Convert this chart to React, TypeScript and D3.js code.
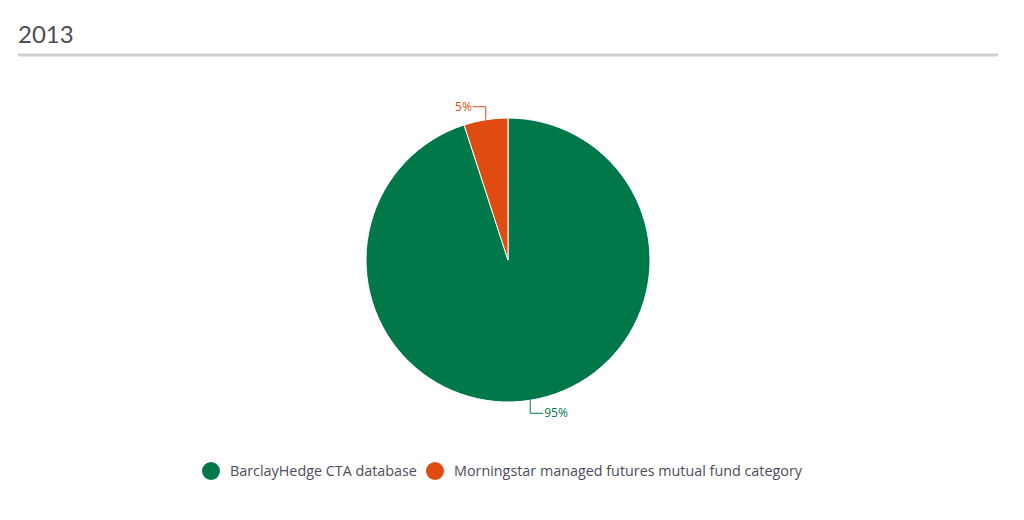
import { useEffect, useRef } from "react";
import * as d3 from "d3";

const title = "2013";
const categories = ["BarclayHedge CTA database", "Morningstar managed futures mutual fund category"];
const values = [95, 5];
const colors = ["#00784a", "#e04b12"];

export default function App() {
    const ref = useRef<SVGSVGElement>(null);

    useEffect(() => {
        const svg = d3.select(ref.current);
        svg.selectAll("*").remove();

        const width = 1024, height = 520;
        const cx = 508, cy = 260, r = 142;
        const font = "'Open Sans', 'Noto Sans', sans-serif";

        svg.attr("width", width).attr("height", height);

        // title + rule
        svg.append("text")
            .attr("x", 18).attr("y", 43)
            .attr("font-family", "Lato, 'Open Sans', sans-serif")
            .attr("font-size", 24)
            .attr("fill", "#4d4d52")
            .text(title);
        svg.append("line")
            .attr("x1", 18).attr("x2", 998)
            .attr("y1", 55).attr("y2", 55)
            .attr("stroke", "#cfcfcf").attr("stroke-width", 3);

        const data = categories.map((c, i) => ({ name: c, value: values[i], color: colors[i] }));

        const pie = d3.pie<any>().sort(null).value(d => d.value);
        const arcs = pie(data);
        const arc = d3.arc<any>().innerRadius(0).outerRadius(r);

        const g = svg.append("g").attr("transform", `translate(${cx},${cy})`);

        g.selectAll("path")
            .data(arcs)
            .enter().append("path")
            .attr("d", arc)
            .attr("fill", d => d.data.color)
            .attr("stroke", "#ffffff")
            .attr("stroke-width", 1);

        // labels with elbow connectors
        arcs.forEach(d => {
            const mid = (d.startAngle + d.endAngle) / 2;
            const px = Math.sin(mid) * r;
            const py = -Math.cos(mid) * r;
            const up = py < 0;
            const ey = up ? py - 13 : py + 13;
            const hx = up ? px - 13 : px + 13;
            g.append("path")
                .attr("d", `M${px},${py}L${px},${ey}L${hx},${ey}`)
                .attr("fill", "none")
                .attr("stroke", d.data.color)
                .attr("stroke-width", 1);
            g.append("text")
                .attr("x", up ? hx - 1 : hx + 1)
                .attr("y", ey)
                .attr("dy", "0.35em")
                .attr("text-anchor", up ? "end" : "start")
                .attr("font-family", font)
                .attr("font-size", 12)
                .attr("fill", d.data.color)
                .text(d.data.value + "%");
        });

        // legend
        const legendX = [211, 435];
        const lg = svg.append("g");
        data.forEach((d, i) => {
            lg.append("circle")
                .attr("cx", legendX[i]).attr("cy", 471)
                .attr("r", 9)
                .attr("fill", d.color);
            lg.append("text")
                .attr("x", legendX[i] + 19).attr("y", 471)
                .attr("dy", "0.35em")
                .attr("font-family", font)
                .attr("font-size", 14.35)
                .attr("fill", "#4d4d5a")
                .text(d.name);
        });
    }, []);

    return (
        <div style={{ position: "absolute", left: 0, top: 0 }}>
            <svg ref={ref} />
        </div>
    );
}
